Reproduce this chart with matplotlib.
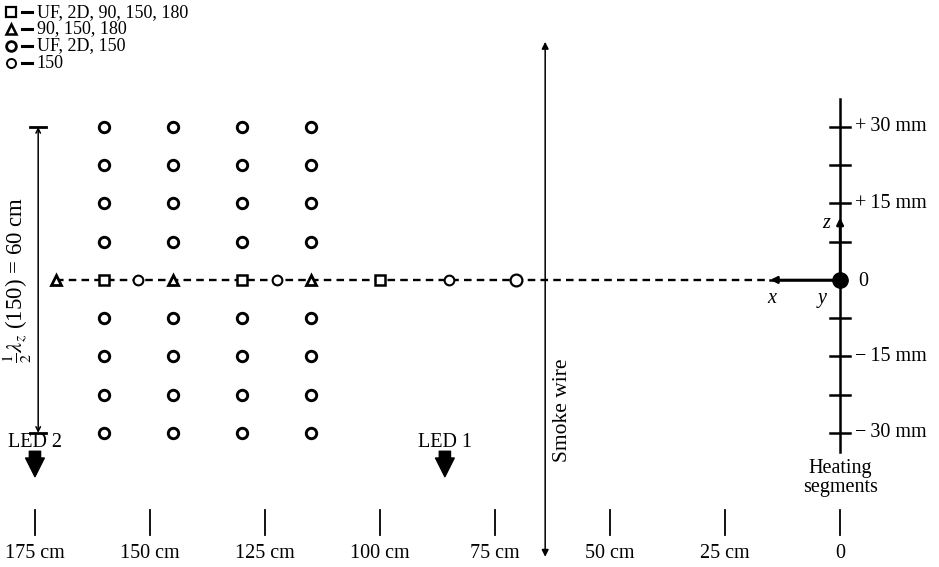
import matplotlib.pyplot as plt

plt.rcParams['font.family'] = ['Liberation Serif', 'DejaVu Serif']
plt.rcParams['mathtext.fontset'] = 'stix'

# streamwise stations (cm from heating segments) and probe heights (mm)
grid_x = [160, 145, 130, 115]
grid_z = [30, 22.5, 15, 7.5, -7.5, -15, -22.5, -30]
square_x = [160, 130, 100]
triangle_x = [170.5, 145, 115]
circle_x = [152.5, 122.5, 85]
circle_end_x = [70.5]
scale_x = [175, 150, 125, 100, 75, 50, 25, 0]
scale_labels = ['175 cm', '150 cm', '125 cm', '100 cm', '75 cm', '50 cm', '25 cm', '0']
z_ticks = [30, 22.5, 15, 7.5, -7.5, -15, -22.5, -30]
z_labels = {30: '+\u200930 mm', 15: '+\u200915 mm', -15: '\u2212\u200915 mm', -30: '\u2212\u200930 mm'}
legend_labels = ['UF, 2D, 90, 150, 180', '90, 150, 180', 'UF, 2D, 150', '150']
led_x = [175, 85.9]
led_labels = ['LED 2', 'LED 1']
smoke_x = 64.1

fig = plt.figure(figsize=(9.39, 5.67), dpi=100)
ax = fig.add_axes([0, 0, 1, 1])
ax.set_xlim(182.6, -21.5)
ax.set_ylim(-56.3, 54.9)
ax.axis('off')
fs = 14.5

# centreline (dashed) and probe markers
ax.plot([triangle_x[0], 15.2], [0, 0], color='k', lw=1.7, dashes=(3.2, 2.2), zorder=1)
ax.plot([15.2, 0], [0, 0], color='k', lw=1.8, zorder=1)
for x in grid_x:
    ax.plot([x] * len(grid_z), grid_z, 'o', ms=7.5, mfc='white', mec='k', mew=2.1, ls='none', zorder=3)
ax.plot(square_x, [0] * len(square_x), 's', ms=7.5, mfc='white', mec='k', mew=1.8, zorder=3)
ax.plot(triangle_x, [0] * len(triangle_x), '^', ms=7.5, mfc='white', mec='k', mew=2.0, zorder=3)
ax.plot(circle_x, [0] * len(circle_x), 'o', ms=7, mfc='white', mec='k', mew=1.5, zorder=3)
ax.plot(circle_end_x, [0], 'o', ms=8.5, mfc='white', mec='k', mew=1.6, zorder=3)

# half-wavelength dimension
ax.annotate('', xy=(174.3, 30), xytext=(174.3, -30),
            arrowprops=dict(arrowstyle='<->', lw=1.1, color='k', shrinkA=0, shrinkB=0,
                            mutation_scale=8))
for zz in (30, -30):
    ax.plot([176.0, 172.6], [zz, zz], color='k', lw=2)
ax.text(178.9, 0, r'$\frac{1}{2}\lambda_z$ (150) = 60 cm', rotation=90, fontsize=16.5,
        ha='center', va='center')

# smoke wire
ax.annotate('', xy=(smoke_x, 46.7), xytext=(smoke_x, -54.3),
            arrowprops=dict(arrowstyle='<|-|>', lw=1.1, color='k', shrinkA=0, shrinkB=0,
                            mutation_scale=10))
ax.text(60.4, -25.5, 'Smoke wire', rotation=90, fontsize=15.5, ha='center', va='center')

# heating segments / z axis
ax.plot([0, 0], [35.5, -33.7], color='k', lw=1.8)
for zz in z_ticks:
    ax.plot([2.2, -2.2], [zz, zz], color='k', lw=1.8)
    if zz in z_labels:
        ax.text(-3.3, zz, z_labels[zz], fontsize=fs, ha='left', va='center')
ax.text(-3.9, -0.4, '0', fontsize=fs, ha='left', va='center')
ax.plot([0], [0], 'o', ms=11, color='k', zorder=4)
ax.annotate('', xy=(15.2, 0), xytext=(0, 0),
            arrowprops=dict(arrowstyle='-|>', lw=1.8, color='k', shrinkA=0, shrinkB=0,
                            mutation_scale=10))
ax.annotate('', xy=(0, 12.2), xytext=(0, 0),
            arrowprops=dict(arrowstyle='-|>', lw=1.8, color='k', shrinkA=0, shrinkB=0,
                            mutation_scale=10))
ax.text(14.8, -3.6, 'x', fontsize=fs, style='italic', ha='center', va='center')
ax.text(3.9, -3.6, 'y', fontsize=fs, style='italic', ha='center', va='center')
ax.text(3.0, 11.0, 'z', fontsize=fs, style='italic', ha='center', va='center')
ax.text(0, -36.9, 'Heating', fontsize=fs, ha='center', va='center')
ax.text(0, -40.8, 'segments', fontsize=fs, ha='center', va='center')

# streamwise scale
for x, lab in zip(scale_x, scale_labels):
    ax.plot([x, x], [-45.1, -50.0], color='k', lw=1.3)
    ax.text(x, -53.7, lab, fontsize=fs, ha='center', va='center')

# LEDs
for x, lab in zip(led_x, led_labels):
    ax.text(x, -31.8, lab, fontsize=fs, ha='center', va='center')
    ax.annotate('', xy=(x, -38.6), xytext=(x, -33.6),
                arrowprops=dict(arrowstyle='simple,head_width=0.75,head_length=0.75,tail_width=0.45',
                                color='k', shrinkA=0, shrinkB=0, mutation_scale=18))

# symbol key
key_y = [52.5, 49.2, 45.9, 42.5]
key_m = [('s', 7, 1.6), ('^', 7, 1.8), ('o', 7, 2.0), ('o', 6.5, 1.4)]
for yy, (m, ms, mew), lab in zip(key_y, key_m, legend_labels):
    ax.plot([180.2], [yy], m, ms=ms, mfc='white', mec='k', mew=mew)
    ax.plot([177.8, 175.7], [yy, yy], color='k', lw=2.2)
    ax.text(174.6, yy, lab, fontsize=13, ha='left', va='center')

fig.savefig('out.png', dpi=100)
